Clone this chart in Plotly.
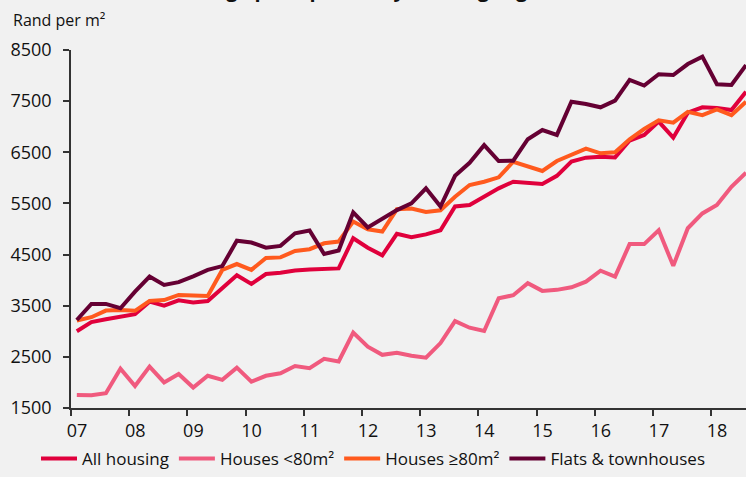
import plotly.graph_objects as go

# Quarterly observations, 2007 to mid-2018
start_year = 2007.1
step = 0.25

all_housing = [3000, 3180, 3235, 3285, 3335, 3580, 3500, 3605, 3565, 3590, 3840, 4095, 3925, 4120, 4145, 4190,
               4210, 4220, 4230, 4820, 4635, 4485, 4905, 4840, 4895, 4975, 5440, 5470, 5630, 5795, 5925, 5905,
               5880, 6040, 6320, 6395, 6415, 6400, 6730, 6840, 7100, 6785, 7275, 7380, 7365, 7325, 7685]
houses_small = [1755, 1750, 1790, 2270, 1930, 2310, 2000, 2165, 1900, 2130, 2050, 2290, 2015, 2130, 2180, 2320,
                2280, 2460, 2410, 2975, 2700, 2540, 2580, 2520, 2485, 2770, 3200, 3070, 3005, 3645, 3705, 3940,
                3790, 3810, 3860, 3970, 4185, 4070, 4705, 4705, 4975, 4280, 5015, 5305, 5470, 5825, 6100]
houses_large = [3210, 3275, 3405, 3417, 3400, 3595, 3610, 3710, 3700, 3690, 4200, 4315, 4200, 4435, 4445, 4570,
                4605, 4720, 4755, 5145, 4995, 4950, 5385, 5400, 5335, 5365, 5630, 5860, 5925, 6010, 6315, 6220,
                6135, 6330, 6460, 6570, 6480, 6500, 6755, 6955, 7125, 7080, 7290, 7225, 7340, 7225, 7490]
flats = [3220, 3535, 3535, 3450, 3775, 4070, 3905, 3960, 4075, 4200, 4275, 4770, 4735, 4635, 4670, 4915,
         4970, 4510, 4580, 5325, 5030, 5210, 5370, 5500, 5795, 5440, 6040, 6295, 6640, 6330, 6335, 6755,
         6935, 6840, 7490, 7445, 7380, 7510, 7915, 7805, 8025, 8010, 8225, 8370, 7830, 7815, 8205]

series_names = ["All housing", "Houses <80m²", "Houses ≥80m²", "Flats & townhouses"]
series_colors = ["#E0003C", "#F05A7E", "#FF5A1E", "#650033"]

year_ticks = list(range(2007, 2019))
year_labels = ["07", "08", "09", "10", "11", "12", "13", "14", "15", "16", "17", "18"]
y_ticks = [1500, 2500, 3500, 4500, 5500, 6500, 7500, 8500]

x = [start_year + step * i for i in range(len(all_housing))]

FONT = "Open Sans"
fig = go.Figure()
for name, vals, col in zip(series_names, [all_housing, houses_small, houses_large, flats], series_colors):
    fig.add_trace(go.Scatter(x=x, y=vals, mode="lines", name=name,
                             line=dict(color=col, width=4)))

fig.update_layout(
    width=746, height=477,
    margin=dict(l=71, r=0, t=50, b=69, autoexpand=False),
    paper_bgcolor="#F1F1F1", plot_bgcolor="#F1F1F1",
    font=dict(family=FONT, size=18, color="#111111"),
    showlegend=True,
    legend=dict(orientation="h", x=0.5, xanchor="center", xref="container",
                y=-0.018, yanchor="bottom", yref="container",
                font=dict(family=FONT, size=17, color="#111111"),
                itemwidth=36, tracegroupgap=0, bgcolor="rgba(0,0,0,0)"),
    xaxis=dict(range=[2007, 2018.6], tickvals=year_ticks, ticktext=year_labels,
               showgrid=False, zeroline=False, showline=True, linecolor="#333333", linewidth=1.5,
               ticks="outside", ticklen=6, tickwidth=1.5, tickcolor="#333333",
               ticklabelshift=6, tickfont=dict(family=FONT, size=18, color="#111111")),
    yaxis=dict(range=[1500, 8500], tickvals=y_ticks, showgrid=False, zeroline=False,
               showline=True, linecolor="#333333", linewidth=1.5,
               ticks="outside", ticklen=6, tickwidth=1.5, tickcolor="#333333",
               ticklabelstandoff=8, tickfont=dict(family=FONT, size=18, color="#111111")),
    annotations=[
        dict(text="Rand per m²", xref="paper", yref="paper", x=0, y=1, xanchor="left", yanchor="middle",
             xshift=-60, yshift=30, showarrow=False, font=dict(family=FONT, size=16, color="#111111")),
        dict(text="<b>Average price per m² by housing segment</b>", xref="paper", yref="paper", x=0.45, y=1,
             xanchor="center", yanchor="bottom", yshift=45, showarrow=False,
             font=dict(family=FONT, size=20, color="#111111")),
    ],
)

fig.write_html("out.html", config={"displayModeBar": False},
               post_script="document.body.style.margin='0';document.body.style.overflow='hidden';")
